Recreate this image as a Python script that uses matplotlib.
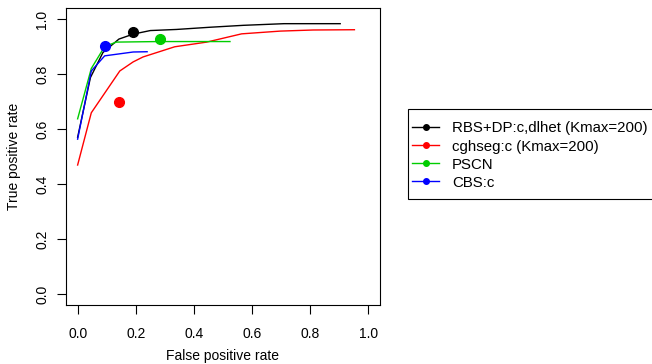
import matplotlib
matplotlib.use("Agg")
import matplotlib.pyplot as plt
from matplotlib.lines import Line2D
from matplotlib.patches import Rectangle

plt.rcParams['font.family'] = ['Liberation Sans', 'DejaVu Sans']

labels = ["RBS+DP:c,dlhet (Kmax=200)", "cghseg:c (Kmax=200)", "PSCN", "CBS:c"]
colors = ["#000000", "#FF0000", "#00CD00", "#0000FF"]

rbs_fpr = [0.0, 0.044, 0.087, 0.142, 0.191, 0.25, 0.34, 0.455, 0.57, 0.71, 0.903]
rbs_tpr = [0.57, 0.787, 0.878, 0.927, 0.945, 0.958, 0.962, 0.970, 0.977, 0.983, 0.983]

cgh_fpr = [0.0, 0.047, 0.145, 0.191, 0.225, 0.334, 0.444, 0.564, 0.697, 0.81, 0.952]
cgh_tpr = [0.469, 0.659, 0.811, 0.844, 0.862, 0.899, 0.916, 0.946, 0.956, 0.960, 0.961]

pscn_fpr = [0.0, 0.047, 0.093, 0.133, 0.28, 0.524]
pscn_tpr = [0.637, 0.82, 0.9, 0.916, 0.918, 0.918]

cbs_fpr = [0.0, 0.047, 0.093, 0.191, 0.239]
cbs_tpr = [0.563, 0.811, 0.866, 0.88, 0.881]

point_fpr = [0.191, 0.141, 0.284, 0.095]
point_tpr = [0.951, 0.700, 0.926, 0.902]

curves = [(rbs_fpr, rbs_tpr), (cgh_fpr, cgh_tpr), (pscn_fpr, pscn_tpr), (cbs_fpr, cbs_tpr)]

W, H = 652, 364
FS = 10
LFS = 10.8
fig = plt.figure(figsize=(W/100, H/100), dpi=100)
ax = fig.add_axes([66/W, 1-305/H, (380-66)/W, (305-8)/H])

for (fx, ty), c in zip(curves, colors):
    ax.plot(fx, ty, color=c, lw=1.0)
for px, py, c in zip(point_fpr, point_tpr, colors):
    ax.plot([px], [py], 'o', color=c, ms=7, mec=c)

ax.set_xlim(-0.04, 1.04)
ax.set_ylim(-0.04, 1.04)
ticks = [0.0, 0.2, 0.4, 0.6, 0.8, 1.0]
ax.set_xticks(ticks)
ax.set_yticks(ticks)
ax.set_xticklabels([f"{t:.1f}" for t in ticks])
ax.set_yticklabels([f"{t:.1f}" for t in ticks], rotation=90, va='center')
ax.tick_params(direction='out', length=6.5, width=0.8, labelsize=FS)
ax.tick_params(axis='x', pad=9)
ax.tick_params(axis='y', pad=5.5)
for s in ax.spines.values():
    s.set_linewidth(0.8)
ax.set_xlabel("False positive rate", fontsize=FS, labelpad=6)
ax.set_ylabel("True positive rate", fontsize=FS, labelpad=10)

# legend frame (R-style, runs off the right edge)
fig.add_artist(Rectangle((408/W, 1-199/H), 260/W, 90/H, transform=fig.transFigure,
                         facecolor='white', edgecolor='black', lw=0.8, zorder=1))

handles = [Line2D([0], [0], color=c, lw=1.0, marker='o', ms=4) for c in colors]
leg = fig.legend(handles, labels, loc='upper left',
                 bbox_to_anchor=(411.7/W, 1-121.5/H), bbox_transform=fig.transFigure,
                 fontsize=LFS, frameon=False, borderaxespad=0, borderpad=0,
                 handlelength=1.85, handletextpad=0.85, labelspacing=0.27)
leg.set_zorder(2)

fig.savefig("out.png", dpi=100)
